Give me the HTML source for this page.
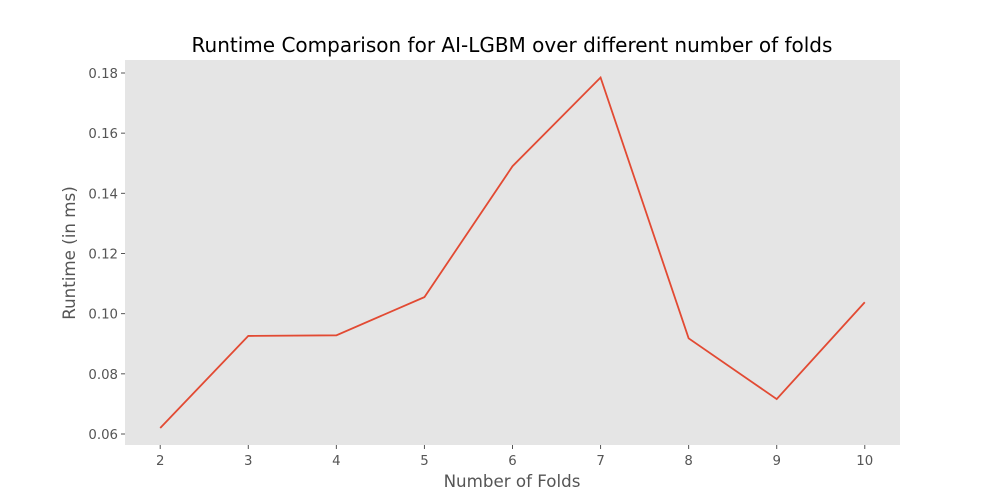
<!DOCTYPE html>
<html><head><meta charset="utf-8"><style>body{margin:0;background:#fff}svg{display:block;font-family:"DejaVu Sans","Liberation Sans",sans-serif}</style></head>
<body>
<svg id="chart" width="1000" height="500">
<rect x="0" y="0" width="1000" height="500" fill="#fff"/>
<rect x="125" y="60" width="775" height="385" fill="#E5E5E5"/>
<text x="512" y="52" text-anchor="middle" font-size="20" fill="#000">Runtime Comparison for AI-LGBM over different number of folds</text>
<text x="512" y="487" text-anchor="middle" font-size="16.7" fill="#555">Number of Folds</text>
<text transform="translate(75,253) rotate(-90)" text-anchor="middle" font-size="16.7" fill="#555">Runtime (in ms)</text>
<g id="xticks"></g><g id="yticks"></g><g id="series"></g>
</svg>
<script>
const folds=[2,3,4,5,6,7,8,9,10];
const runtimes=[0.062,0.0926,0.0928,0.1055,0.149,0.1785,0.0918,0.0716,0.1038];
const yTickValues=[0.06,0.08,0.10,0.12,0.14,0.16,0.18];
const yTickLabels=["0.06","0.08","0.10","0.12","0.14","0.16","0.18"];
const NS="http://www.w3.org/2000/svg";
const L=125,R=900,T=60,B=445,xmin=1.6,xmax=10.4,ymin=0.05634,ymax=0.18432;
const sx=v=>L+(v-xmin)/(xmax-xmin)*(R-L);
const sy=v=>B-(v-ymin)/(ymax-ymin)*(B-T);
function mk(t,a,p){const e=document.createElementNS(NS,t);for(const k in a)e.setAttribute(k,a[k]);p.appendChild(e);return e;}
const xg=document.getElementById('xticks');
folds.forEach(f=>{
 const tk=mk('line',{x1:sx(f),x2:sx(f),y1:B,y2:B+4,stroke:'#555'},xg);
 
 
 const t=mk('text',{x:sx(f),y:B+20,'text-anchor':'middle','font-size':13.3,fill:'#555'},xg);
 t.textContent=f;
 
 
});
const yg=document.getElementById('yticks');
yTickValues.forEach((v,i)=>{
 const tk=mk('line',{x1:L-4,x2:L,y1:sy(v),y2:sy(v),stroke:'#555'},yg);
 
 
 const t=mk('text',{x:L-7,y:sy(v)+5,'text-anchor':'end','font-size':13.3,fill:'#555'},yg);
 t.textContent=yTickLabels[i];
 
 
});
const pts=folds.map((f,i)=>sx(f)+','+sy(runtimes[i])).join(' ');
const line=mk('polyline',{points:pts,fill:'none',stroke:'#E24A33','stroke-width':1.8},document.getElementById('series'));


</script>
</body></html>
